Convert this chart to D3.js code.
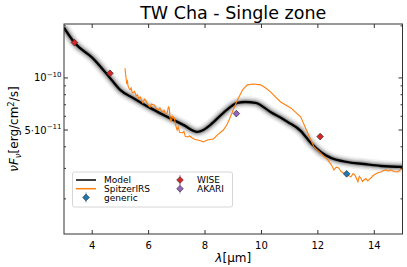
<!DOCTYPE html>
<html>
<head>
<meta charset="utf-8">
<script src="https://cdn.jsdelivr.net/npm/d3@7"></script>
<style>
  body { margin: 0; background: #fff; }
  svg text { font-family: "DejaVu Sans", sans-serif; fill: #000; }
</style>
</head>
<body>
<div id="chart"></div>
<script>
// data
var modelWave = [3.0, 3.38, 4.0, 4.63, 4.99, 5.45, 6.05, 6.66, 7.23, 7.73, 7.94, 8.19, 8.65, 9.15, 9.43, 9.79, 10.32, 10.93, 11.39, 11.75, 12.1, 12.46, 13.06, 13.63, 14.24, 15.0];
var modelFlux = [1.95e-10, 1.59e-10, 1.31e-10, 1.0e-10, 8.53e-11, 7.66e-11, 6.71e-11, 5.96e-11, 5.35e-11, 4.88e-11, 5.0e-11, 5.35e-11, 6.28e-11, 7.17e-11, 7.26e-11, 7.17e-11, 6.36e-11, 5.57e-11, 4.95e-11, 4.21e-11, 3.73e-11, 3.45e-11, 3.26e-11, 3.18e-11, 3.10e-11, 3.06e-11];

var irsWave = [5.16, 5.2, 5.22, 5.25, 5.27, 5.31, 5.34, 5.38, 5.42, 5.45, 5.5, 5.56, 5.6, 5.65, 5.7, 5.75, 5.8, 5.85, 5.91, 5.97, 6.05, 6.1, 6.2, 6.27, 6.34, 6.4, 6.48, 6.55, 6.6, 6.66, 6.7, 6.73, 6.76, 6.8, 6.85, 6.91, 6.95, 7.01, 7.05, 7.1, 7.19, 7.25, 7.3, 7.37, 7.45, 7.55, 7.63, 7.73, 7.84, 7.94, 8.08, 8.3, 8.44, 8.65, 8.79, 8.9, 9.04, 9.15, 9.33, 9.5, 9.72, 9.97, 10.15, 10.32, 10.68, 11.04, 11.39, 11.64, 11.86, 12.1, 12.35, 12.5, 12.57, 12.65, 12.74, 12.82, 12.92, 13.05, 13.17, 13.25, 13.31, 13.37, 13.42, 13.47, 13.52, 13.58, 13.63, 13.7, 13.77, 13.83, 13.88, 13.95, 14.06, 14.15, 14.24, 14.33, 14.41, 14.5, 14.59, 14.7, 14.84, 14.92, 15.0];
var irsFlux = [1.14e-10, 1.0e-10, 9.35e-11, 9.6e-11, 8.99e-11, 8.7e-11, 8.53e-11, 8.75e-11, 8.2e-11, 8.19e-11, 8.35e-11, 7.87e-11, 8.0e-11, 7.6e-11, 7.76e-11, 7.45e-11, 7.17e-11, 7.55e-11, 7.37e-11, 7.0e-11, 6.79e-11, 7.05e-11, 6.98e-11, 6.7e-11, 6.53e-11, 6.7e-11, 6.36e-11, 6.5e-11, 6.2e-11, 6.28e-11, 6.8e-11, 6.71e-11, 5.9e-11, 5.57e-11, 6.0e-11, 5.88e-11, 5.4e-11, 5.0e-11, 5.2e-11, 4.85e-11, 4.81e-11, 4.9e-11, 4.6e-11, 4.56e-11, 4.62e-11, 4.5e-11, 4.42e-11, 4.38e-11, 4.33e-11, 4.27e-11, 4.38e-11, 4.44e-11, 4.69e-11, 5.0e-11, 5.42e-11, 5.96e-11, 6.79e-11, 7.46e-11, 8.53e-11, 9.12e-11, 9.23e-11, 9.12e-11, 8.75e-11, 8.3e-11, 7.26e-11, 6.71e-11, 5.96e-11, 4.81e-11, 3.99e-11, 3.68e-11, 3.36e-11, 3.1e-11, 2.94e-11, 3.05e-11, 3.02e-11, 2.88e-11, 2.82e-11, 2.75e-11, 2.68e-11, 2.8e-11, 2.75e-11, 2.62e-11, 2.51e-11, 2.7e-11, 2.64e-11, 2.52e-11, 2.57e-11, 2.62e-11, 2.54e-11, 2.6e-11, 2.64e-11, 2.72e-11, 2.79e-11, 2.84e-11, 2.86e-11, 2.92e-11, 2.94e-11, 2.9e-11, 2.94e-11, 2.88e-11, 2.86e-11, 2.95e-11, 3.02e-11];

var photSets = ["generic", "WISE", "AKARI"];
var photColors = ["#1f77b4", "#d62728", "#9467bd"];
var photWave = [13.02, 3.37, 4.63, 12.08, 9.11];
var photFlux = [2.79e-11, 1.6e-10, 1.064e-10, 4.58e-11, 6.22e-11];
var photSet = ["generic", "WISE", "WISE", "WISE", "AKARI"];

var xTicks = [4, 6, 8, 10, 12, 14];
var yMajor = [1e-10, 5e-11];
var yMinor = [2e-11, 3e-11, 4e-11, 6e-11, 7e-11, 8e-11, 9e-11, 2e-10];

var width = 407, height = 267;
var pLeft = 64, pRight = 402.5, pTop = 24, pBottom = 234;

var svg = d3.select("#chart").append("svg")
    .attr("width", width)
    .attr("height", height);

var x = d3.scaleLinear().domain([3, 15]).range([pLeft, pRight]);
var y = d3.scaleLog().domain([1.253e-11, 2.05e-10]).range([pBottom, pTop]);

svg.append("defs").append("clipPath").attr("id", "clip")
  .append("rect").attr("x", pLeft).attr("y", pTop)
  .attr("width", pRight - pLeft).attr("height", pBottom - pTop);

var plot = svg.append("g");

var model = modelWave.map(function (w, i) { return [w, modelFlux[i]]; });
var irs = irsWave.map(function (w, i) { return [w, irsFlux[i]]; });

var line = d3.line()
    .x(function (d) { return x(d[0]); })
    .y(function (d) { return y(d[1]); })
    .curve(d3.curveMonotoneX);

var clipped = plot.append("g").attr("clip-path", "url(#clip)");

// model ensemble halo
[[12, 0.1], [9, 0.16], [6.5, 0.28], [4.5, 0.45]].forEach(function (h) {
    clipped.append("path")
        .datum(model)
        .attr("d", line)
        .attr("fill", "none")
        .attr("stroke", "#777")
        .attr("stroke-opacity", h[1])
        .attr("stroke-width", h[0]);
});
clipped.append("path")
    .datum(model)
    .attr("d", line)
    .attr("fill", "none")
    .attr("stroke", "#000")
    .attr("stroke-width", 2.4);

clipped.append("path")
    .datum(irs)
    .attr("d", d3.line().x(function (d) { return x(d[0]); }).y(function (d) { return y(d[1]); }))
    .attr("fill", "none")
    .attr("stroke", "#ff7f0e")
    .attr("stroke-width", 1.1);

var diamond = d3.symbol().type(d3.symbolDiamond2).size(28);

photWave.forEach(function (w, i) {
    var col = photColors[photSets.indexOf(photSet[i])];
    var g = clipped.append("g").attr("transform", "translate(" + x(w) + "," + y(photFlux[i]) + ")");
    g.append("line").attr("y1", -3).attr("y2", 3).attr("stroke", col).attr("stroke-width", 1);
    g.append("path").attr("d", diamond).attr("fill", col).attr("stroke", "#222").attr("stroke-width", 0.6);
});

// frame
plot.append("rect")
    .attr("x", pLeft).attr("y", pTop)
    .attr("width", pRight - pLeft).attr("height", pBottom - pTop)
    .attr("fill", "none").attr("stroke", "#333").attr("stroke-width", 1);

// inward ticks on all four sides
xTicks.forEach(function (t) {
    plot.append("line").attr("x1", x(t)).attr("x2", x(t)).attr("y1", pBottom).attr("y2", pBottom - 4)
        .attr("stroke", "#333");
    plot.append("line").attr("x1", x(t)).attr("x2", x(t)).attr("y1", pTop).attr("y2", pTop + 4)
        .attr("stroke", "#333");
    svg.append("text").attr("x", x(t)).attr("y", 248.5)
        .attr("text-anchor", "middle").attr("font-size", 10).text(t);
});

yMajor.concat(yMinor).forEach(function (t) {
    var len = yMajor.indexOf(t) >= 0 ? 4 : 2;
    plot.append("line").attr("x1", pLeft).attr("x2", pLeft + len).attr("y1", y(t)).attr("y2", y(t))
        .attr("stroke", "#333");
    plot.append("line").attr("x1", pRight).attr("x2", pRight - len).attr("y1", y(t)).attr("y2", y(t))
        .attr("stroke", "#333");
});

var lab1 = svg.append("text").attr("x", 61.5).attr("y", y(1e-10) + 3.5)
    .attr("text-anchor", "end").attr("font-size", 10);
lab1.append("tspan").text("10");
lab1.append("tspan").attr("font-size", 7).attr("dy", -4.5).text("\u221210");

var lab2 = svg.append("text").attr("x", 61.5).attr("y", y(5e-11) + 3.5)
    .attr("text-anchor", "end").attr("font-size", 10);
lab2.append("tspan").text("5\u00b710");
lab2.append("tspan").attr("font-size", 7).attr("dy", -4.5).text("\u221211");

// axis labels and title
svg.append("text").attr("x", (pLeft + pRight) / 2).attr("y", 262)
    .attr("text-anchor", "middle").attr("font-size", 12)
    .html('<tspan font-style="italic">\u03bb</tspan>[\u03bcm]');

var yl = svg.append("text")
    .attr("transform", "translate(18," + (pTop + pBottom) / 2 + ") rotate(-90)")
    .attr("text-anchor", "middle").attr("font-size", 12);
yl.append("tspan").attr("font-style", "italic").text("\u03bdF");
yl.append("tspan").attr("font-style", "italic").attr("font-size", 8.5).attr("dy", 3).text("\u03bd");
yl.append("tspan").attr("dy", -3).text("[erg/cm");
yl.append("tspan").attr("font-size", 8.5).attr("dy", -4.5).text("2");
yl.append("tspan").attr("dy", 4.5).text("/s]");

svg.append("text").attr("x", (pLeft + pRight) / 2).attr("y", 19)
    .attr("text-anchor", "middle").attr("font-size", 17.5)
    .text("TW Cha - Single zone");

// legend
var leg = svg.append("g");
leg.append("rect").attr("x", 72.5).attr("y", 172).attr("width", 160).attr("height", 35)
    .attr("rx", 2).attr("fill", "#fff").attr("fill-opacity", 0.8)
    .attr("stroke", "#ccc").attr("stroke-width", 0.8);

var rowY = [180, 188.7, 197.5];
var legLines = [["Model", "#000"], ["SpitzerIRS", "#ff7f0e"]];
legLines.forEach(function (e, i) {
    leg.append("line").attr("x1", 76).attr("x2", 96).attr("y1", rowY[i]).attr("y2", rowY[i])
        .attr("stroke", e[1]).attr("stroke-width", 1.5);
    leg.append("text").attr("x", 104).attr("y", rowY[i] + 3.3).attr("font-size", 9).text(e[0]);
});

var legPts = [["generic", 86, rowY[2], 104], ["WISE", 180, rowY[0], 197], ["AKARI", 180, rowY[1], 197]];
legPts.forEach(function (e) {
    var col = photColors[photSets.indexOf(e[0])];
    var g = leg.append("g").attr("transform", "translate(" + e[1] + "," + e[2] + ")");
    g.append("line").attr("y1", -5).attr("y2", 5).attr("stroke", col).attr("stroke-opacity", 0.7).attr("stroke-width", 1);
    g.append("path").attr("d", diamond).attr("fill", col).attr("stroke", "#222").attr("stroke-width", 0.6);
    leg.append("text").attr("x", e[3]).attr("y", e[2] + 3.3).attr("font-size", 9).text(e[0]);
});
</script>
</body>
</html>
